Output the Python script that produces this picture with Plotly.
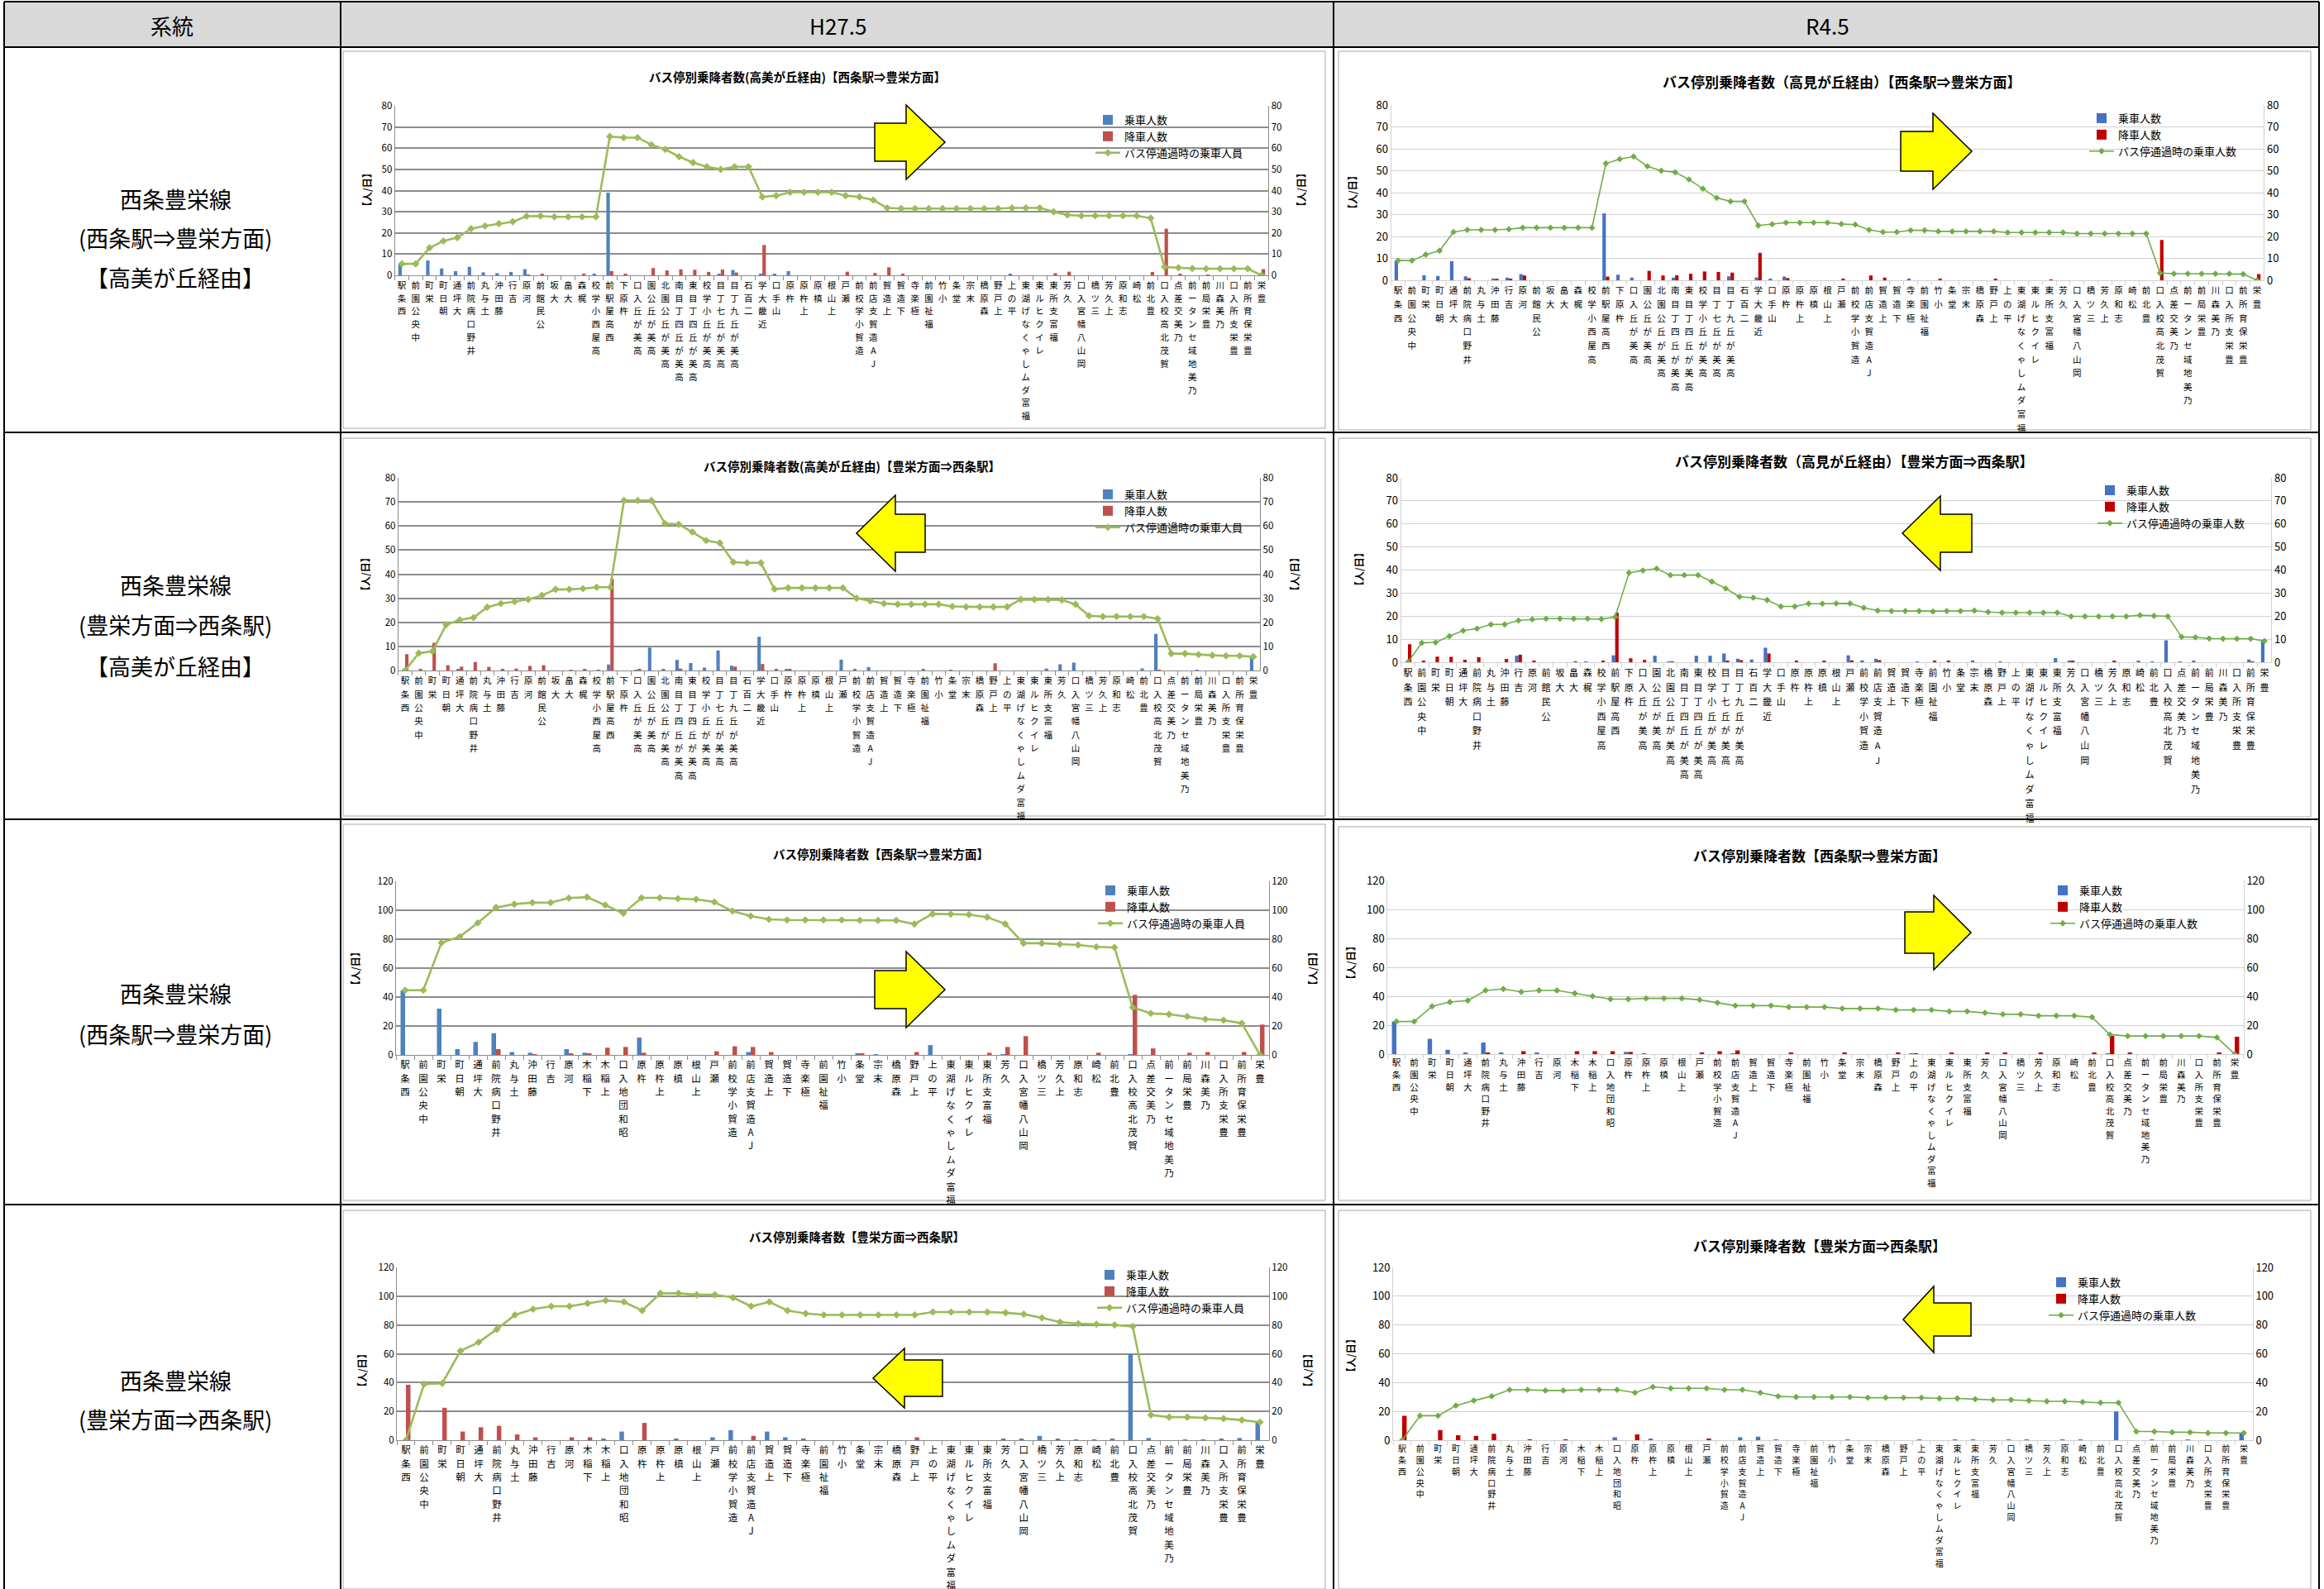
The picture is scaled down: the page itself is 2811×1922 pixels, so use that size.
import plotly.graph_objects as go

W, H = 2811, 1922
FONT = "Noto Sans CJK JP"

# ---- bus stops -------------------------------------------------------------
STOPS_A = ["西条駅", "中央公園前", "栄町", "朝日町", "大坪通", "井野口病院前", "土与丸", "藤田沖", "吉行", "河原",
           "公民館前", "大坂", "大畠", "梶森", "高屋西小学校", "西高屋駅前", "杵原下", "高美が丘入口", "高美が丘公園", "高美が丘公園北",
           "高美が丘四丁目南", "高美が丘四丁目東", "高美が丘小学校", "高美が丘七丁目", "高美が丘九丁目", "二百石", "近畿大学", "山手口", "杵原", "上杵原",
           "槙原", "上山根", "瀬戸", "造賀小学校前", "JA造賀支店前", "上造賀", "下造賀", "極楽寺", "福祉園前", "小竹",
           "堂条", "末宗", "森原橋", "上戸野", "平の上", "福富ダムしゃくなげ湖東", "レイクヒル東", "福富支所東", "久芳", "岡山八幡宮入口",
           "三ツ橋", "上久芳", "志和原", "松崎", "豊北前", "賀茂北高校入口", "乃美交差点", "乃美地域センター前", "豊栄局前", "乃美森川",
           "豊栄支所入口", "豊栄保育所前", "豊栄"]

STOPS_B = ["西条駅", "中央公園前", "栄町", "朝日町", "大坪通", "井野口病院前", "土与丸", "藤田沖", "吉行", "河原",
           "下稲木", "上稲木", "昭和団地入口", "杵原", "上杵原", "槙原", "上山根", "瀬戸", "造賀小学校前", "JA造賀支店前",
           "上造賀", "下造賀", "極楽寺", "福祉園前", "小竹", "堂条", "末宗", "森原橋", "上戸野", "平の上",
           "福富ダムしゃくなげ湖東", "レイクヒル東", "福富支所東", "久芳", "岡山八幡宮入口", "三ツ橋", "上久芳", "志和原", "松崎", "豊北前",
           "賀茂北高校入口", "乃美交差点", "乃美地域センター前", "豊栄局前", "乃美森川", "豊栄支所入口", "豊栄保育所前", "豊栄"]

# ---- 高美が丘経由 西条駅⇒豊栄方面 -------------------------------------------
A_H27_OUT_BOARD = [5.4, 0, 7.0, 3.2, 2.0, 4.0, 1.4, 1.0, 1.6, 2.9,
                   0, 0, 0, 0, 0.8, 39, 0, 0, 0, 0,
                   0, 0, 0, 0.6, 2.5, 0, 0.4, 0.5, 2.0, 0,
                   0, 0, 0, 0, 0, 0, 0, 0, 0, 0,
                   0, 0, 0, 0, 0.4, 0, 0, 0, 0, 0,
                   0, 0, 0, 0, 0, 0, 0, 0, 0, 0,
                   0, 0, 0]
A_H27_OUT_ALIGHT = [0, 0, 0, 0, 0, 0, 0, 0, 0, 0.3,
                    0.4, 0, 0, 0.7, 0, 2.0, 0.4, 0, 3.4, 2.3,
                    2.8, 2.6, 1.6, 2.7, 1.3, 0, 14.3, 0, 0, 0,
                    0, 0, 1.7, 0, 1.1, 3.8, 0.6, 0, 0, 0,
                    0, 0, 0, 0, 0, 0, 0, 1.0, 1.7, 0,
                    0, 0, 0, 0, 1.6, 22.0, 0.5, 0, 0.3, 0,
                    0, 0, 2.9]
A_H27_OUT_ONBOARD = [5.4, 5.4, 13, 16.2, 17.8, 22, 23.3, 24.4, 25.3, 27.9,
                     28, 27.6, 27.6, 27.6, 27.6, 65.5, 65, 65, 61.6, 59.4,
                     56, 53.2, 51.2, 50, 51.2, 51.2, 37, 37.6, 39.2, 39.2,
                     39.2, 39.2, 37.6, 37, 35.5, 31.8, 31.5, 31.5, 31.5, 31.5,
                     31.5, 31.5, 31.5, 31.5, 31.8, 31.8, 31.8, 30, 28.5, 28.1,
                     28.1, 28.1, 28.1, 28.1, 27, 3.9, 3.6, 3.2, 3.1, 3.1,
                     3.1, 3.1, 0]

A_R4_OUT_BOARD = [9, 0, 2.3, 2.0, 8.7, 1.8, 0, 0.8, 1.2, 2.8,
                  0, 0, 0, 0, 0, 30.5, 2.5, 1.2, 0, 0,
                  1.2, 0, 0, 0, 1.8, 0, 1.3, 0.5, 1.7, 0,
                  0, 0, 0, 0, 0, 0, 0, 0.8, 0, 0,
                  0, 0, 0, 0, 0, 0, 0, 0, 0, 0,
                  0, 0, 0, 0, 0, 0, 0, 0, 0, 0,
                  0, 0, 0]
A_R4_OUT_ALIGHT = [0, 0, 0, 0, 0, 0.9, 0, 0.6, 0.6, 2.2,
                   0, 0, 0, 0, 0, 1.7, 0, 0, 4.3, 2.2,
                   2.3, 3.0, 4.0, 3.8, 3.5, 0, 12.5, 0, 1.0, 0,
                   0, 0, 0.5, 0, 2.2, 1.2, 0, 0, 0, 0.4,
                   0, 0, 0, 0.5, 0, 0, 0, 0.3, 0, 0,
                   0, 0, 0, 0, 0, 18.4, 0, 0, 0, 0,
                   0, 0, 2.8]
A_R4_OUT_ONBOARD = [9, 9, 11.7, 13.5, 22, 23, 23, 23, 23.3, 24,
                    24, 24, 24, 24, 24, 53.3, 55.3, 56.5, 52, 50,
                    49.3, 46, 41.8, 37.6, 36, 36, 25, 25.6, 26.3, 26.3,
                    26.3, 26.3, 25.7, 25.4, 23, 22, 22, 22.8, 22.8, 22.3,
                    22.3, 22.3, 22.3, 22.3, 21.8, 21.8, 21.8, 21.8, 21.8, 21.3,
                    21.3, 21.3, 21.3, 21.3, 21.3, 3.3, 3, 3, 3, 3,
                    3, 2.8, 0]

# ---- 高美が丘経由 豊栄方面⇒西条駅 -------------------------------------------
A_H27_IN_BOARD = [0, 0, 0, 0, 0.5, 0, 0, 0, 0, 0,
                  0, 0, 0, 0, 0, 2.5, 0, 0.3, 9.5, 0.4,
                  4.4, 3.1, 1.2, 8.3, 2.0, 0, 14.0, 0, 0.5, 0,
                  0, 0, 4.5, 0.7, 1.4, 0, 0, 0, 0.5, 0,
                  0.3, 0, 0, 0, 0, 0, 0, 0.8, 2.6, 3.3,
                  0, 0, 0, 0, 0.9, 15.2, 0, 0, 0.3, 0,
                  0, 0, 5.5]
A_H27_IN_ALIGHT = [6.8, 0.6, 11.5, 2.2, 1.6, 3.5, 1.5, 0.6, 0.8, 1.9,
                   2.2, 0, 0.3, 0.4, 0.3, 38, 0, 0.6, 0, 0,
                   0.8, 0, 0, 0, 1.6, 0, 2.7, 0.6, 0.6, 0,
                   0, 0, 0, 0, 0, 0, 0, 0, 0, 0,
                   0, 0, 0, 3.0, 0, 0, 0, 0, 0, 0,
                   0, 0, 0, 0, 0, 0.3, 0, 0, 0, 0,
                   0, 0, 0]
A_H27_IN_ONBOARD = [0, 7.2, 8, 19, 21, 22, 26.3, 27.8, 28.6, 29.5,
                    31.2, 33.7, 33.7, 34, 34.6, 34.6, 70.6, 70.6, 70.6, 61,
                    60.7, 57.5, 54, 53, 45, 44.7, 44.7, 33.8, 34.3, 34.3,
                    34.3, 34.3, 34.3, 30, 28.9, 27.8, 27.5, 27.5, 27.5, 27.5,
                    26.6, 26.4, 26.4, 26.4, 26.4, 29.5, 29.5, 29.5, 29.3, 27.5,
                    22.7, 22.4, 22.4, 22.4, 22.4, 21.5, 7, 7, 6.6, 6.3,
                    6.1, 6.1, 5.7]

A_R4_IN_BOARD = [0, 0, 0, 0, 0, 0, 0, 0, 2.8, 0,
                 0, 0, 0, 0.3, 0, 3.0, 0, 0, 2.8, 0.3,
                 0, 2.8, 2.8, 3.8, 1.5, 1.2, 6.3, 0, 0, 0,
                 0, 0, 3.0, 0.8, 1.5, 0, 0, 0.3, 0, 0,
                 0, 0.8, 0, 0.3, 0, 0, 0, 1.8, 0.4, 0,
                 0, 0, 0, 0.4, 0.3, 9.5, 0.3, 0.5, 0, 0,
                 0, 1.2, 9.2]
A_R4_IN_ALIGHT = [7.8, 0.6, 2.4, 2.3, 1.1, 2.2, 0, 1.4, 3.3, 0.6,
                  0, 0, 0.3, 0, 0.5, 21.5, 1.7, 1.0, 0, 0.3,
                  0, 0, 0, 0.4, 0.9, 0, 3.8, 0, 0.7, 0,
                  0.5, 0, 0.8, 0, 0.9, 0, 0, 0, 0.4, 0.4,
                  0, 0, 0, 0, 0, 0, 0, 0, 0.4, 0,
                  0, 0.6, 0, 0, 0, 0, 0, 0, 0, 0,
                  0, 0.3, 0]
A_R4_IN_ONBOARD = [0, 8.4, 8.6, 11.3, 13.7, 14.6, 16.4, 16.4, 18.1, 18.6,
                   18.9, 18.9, 18.9, 18.9, 18.7, 19.6, 38.8, 39.8, 40.6, 37.8,
                   37.8, 37.8, 35, 32, 28.4, 28, 27, 24.2, 24.2, 25.4,
                   25.4, 25.5, 25.5, 23.6, 22.4, 22.2, 22.2, 22.2, 22, 22.2,
                   22.2, 22.4, 21.8, 21.5, 21.5, 21.5, 21.5, 21.5, 19.9, 19.9,
                   19.9, 19.9, 19.9, 20.4, 20.1, 19.9, 11, 10.8, 10.3, 10.2,
                   10.2, 10.2, 9.2]

# ---- 西条駅⇒豊栄方面 ---------------------------------------------------------
B_H27_OUT_BOARD = [44.5, 0, 32, 4, 9, 15, 2, 1.5, 0, 4,
                   1.5, 0, 0, 12, 0, 0, 0, 0, 0, 2,
                   0, 0, 0, 0, 0, 1, 0.5, 0, 0, 6.8,
                   0, 0, 0, 0.5, 0, 0, 0, 0, 0, 0,
                   0.5, 0, 0, 0, 0, 0, 0, 0]
B_H27_OUT_ALIGHT = [0, 0, 0, 0, 0, 4, 0, 0.5, 0, 1,
                    1, 5, 5.5, 1.5, 0, 0, 0, 2.5, 6, 5.5,
                    2, 0, 0, 0, 0, 1, 0, 0, 2, 0,
                    0, 0, 1.5, 5.5, 13, 0, 0, 0, 1.5, 0,
                    41.5, 4.5, 0, 1.5, 2, 0, 2, 21]
B_H27_OUT_ONBOARD = [44.7, 44.7, 77.6, 81.7, 91.3, 101.9, 104.2, 105.3, 105.3, 108.4,
                     109.1, 103.6, 97.9, 108.6, 108.6, 108, 107.6, 105.7, 99.4, 96,
                     93.7, 93.3, 93.3, 93.3, 93.3, 93, 93, 93, 90.5, 97.5,
                     97.3, 97, 95.2, 90.5, 77.2, 77.2, 76.6, 76, 74.7, 74.3,
                     32.9, 28.7, 28.1, 26.6, 24.7, 24, 21.9, 0]

B_R4_OUT_BOARD = [22.5, 0, 10.5, 3, 1, 8, 1, 0, 1, 0,
                  0, 0, 0, 1.5, 0.5, 0, 0, 0, 0, 0.5,
                  0, 0, 0, 0, 0, 0, 0, 0, 0, 0.5,
                  0, 0, 0, 0, 0, 0, 0, 0, 0, 0,
                  0.5, 0, 0, 0, 0, 0, 0, 0]
B_R4_OUT_ALIGHT = [0, 0, 0, 0, 0, 1, 0, 2, 0, 0,
                   2, 2, 2, 1.5, 0, 0, 0, 1, 2, 2.5,
                   0, 0, 1, 0, 0, 1, 0, 0, 1, 0.5,
                   0, 1, 0, 1, 1, 0, 1, 0, 0, 1,
                   12.5, 1, 0, 0, 0, 0, 1, 12]
B_R4_OUT_ONBOARD = [22.5, 22.5, 33, 36, 37, 44, 45, 43, 44, 44,
                    42, 40, 38, 38, 38.5, 38.5, 38.5, 37.5, 35.5, 33.5,
                    33.5, 33.5, 32.5, 32.5, 32.5, 31.5, 31.5, 31.5, 30.5, 30.5,
                    30.5, 29.5, 29.5, 28.5, 27.5, 27.5, 26.5, 26.5, 26.5, 25.5,
                    13.5, 12.5, 12.5, 12.5, 12.5, 12.5, 11.5, 0]

# ---- 豊栄方面⇒西条駅 ---------------------------------------------------------
B_H27_IN_BOARD = [0, 0, 0, 0, 0, 0, 0, 0, 0, 0,
                  0, 1, 6, 0, 0, 1, 0, 2, 7, 0,
                  6, 2, 1, 0, 0, 0, 0, 0, 0, 0,
                  0, 0, 0, 1, 1, 3, 1, 0.5, 0.5, 1,
                  60, 1.5, 0, 0.5, 0.5, 1, 1.5, 12.5]
B_H27_IN_ALIGHT = [38.5, 0, 22.5, 6, 9, 10, 4, 2, 0, 2,
                   2, 0, 0, 12, 0, 0, 0, 0, 0, 3,
                   0, 0, 0, 0, 0, 0, 0, 0, 2, 0,
                   0, 0, 0, 0, 0, 0, 0, 0, 0, 0,
                   0, 0, 0, 0, 0, 0, 0, 0]
B_H27_IN_ONBOARD = [0, 39, 39.5, 62, 68, 77, 87, 91, 93, 93,
                    95, 97, 96, 90, 102, 102, 101, 101, 99, 93,
                    96, 90, 88, 87, 87, 87, 87, 87, 87, 89,
                    89, 89, 89, 88.5, 87.5, 85, 82, 81, 80.5, 80,
                    79, 17.5, 16, 16, 15.5, 15, 14, 12.5]

B_R4_IN_BOARD = [0, 0, 0, 0, 0, 0, 0, 0, 0, 0,
                 0, 0, 2, 0, 1, 0, 0, 0, 0, 2,
                 2.5, 0.5, 0, 0, 0, 0.5, 0, 0, 0, 0.5,
                 0, 0.5, 0.5, 0, 0.5, 0.5, 0, 0.5, 0.5, 0,
                 20, 0, 0.5, 0, 0.5, 0, 0, 5]
B_R4_IN_ALIGHT = [17, 0, 7, 3.5, 3, 4.5, 0, 0.5, 0, 0.5,
                  0, 0, 0, 4, 0, 0, 0, 1, 0, 0,
                  0, 0, 0, 0, 0, 0, 0, 0, 0, 0,
                  0, 0, 0, 0, 0, 0, 0, 0, 0, 0,
                  0, 0, 0, 0, 0, 0, 0, 0]
B_R4_IN_ONBOARD = [0, 17, 17, 24, 27.5, 30.5, 35, 35, 34.5, 34.5,
                   35, 35, 35, 33, 37, 36, 36, 36, 35, 35,
                   33, 30.5, 30, 30, 30, 30, 29.5, 29.5, 29.5, 29.5,
                   29, 29, 28.5, 28, 28, 27.5, 27, 27, 26.5, 26,
                   26, 6, 6, 5.5, 5.5, 5, 5, 5]

TITLES = [
    "バス停別乗降者数(高美が丘経由)【西条駅⇒豊栄方面】",
    "バス停別乗降者数（高見が丘経由）【西条駅⇒豊栄方面】",
    "バス停別乗降者数(高美が丘経由)【豊栄方面⇒西条駅】",
    "バス停別乗降者数（高見が丘経由）【豊栄方面⇒西条駅】",
    "バス停別乗降者数【西条駅⇒豊栄方面】",
    "バス停別乗降者数【西条駅⇒豊栄方面】",
    "バス停別乗降者数【豊栄方面⇒西条駅】",
    "バス停別乗降者数【豊栄方面⇒西条駅】",
]
LINE_NAMES = {"H27": "バス停通過時の乗車人員", "R4": "バス停通過時の乗車人数"}

PALETTES = {
    "H27": dict(blue="#4F81BD", red="#C0504D", green="#9BBB59", grid="#8c8c8c", gw=1.6, lw=2.6, ms=7,
                title_fs=14.5, tick_fs=11.5),
    "R4": dict(blue="#4472C4", red="#C00000", green="#70AD47", grid="#d0d0d0", gw=1.2, lw=1.6, ms=6,
               title_fs=17, tick_fs=13),
}

# placement of each chart on the page (pixels); tfs = label line pitch, glyph = label glyph size
CHARTS = [
    dict(stops=STOPS_A, board=A_H27_OUT_BOARD, alight=A_H27_OUT_ALIGHT, onboard=A_H27_OUT_ONBOARD, era="H27",
         first=486, last=1526, y0=333, ytop=128, ymax=80, dtick=10, box=(415, 62, 1603, 518), tfs=12.2, glyph=10.5,
         title=(964, 93), legend=(1320, 130, 4), ytl=(443, 230), ytr=(1573, 230),
         arrow=("r", 1058, 1096, 1143, 172, 23, 45)),
    dict(stops=STOPS_A, board=A_R4_OUT_BOARD, alight=A_R4_OUT_ALIGHT, onboard=A_R4_OUT_ONBOARD, era="R4",
         first=1691, last=2730, y0=339, ytop=127, ymax=80, dtick=10, box=(1619, 62, 2795, 520), tfs=12.8, glyph=10.5,
         title=(2228, 98), legend=(2522, 128, 3.6), ytl=(1635, 233), ytr=None,
         arrow=("r", 2299, 2338, 2385, 183, 24, 46)),
    dict(stops=STOPS_A, board=A_H27_IN_BOARD, alight=A_H27_IN_ALIGHT, onboard=A_H27_IN_ONBOARD, era="H27",
         first=490, last=1516, y0=811, ytop=578, ymax=80, dtick=10, box=(415, 530, 1603, 987), tfs=12.6, glyph=10.5,
         title=(1030, 563), legend=(1320, 583, 7), ytl=(441, 695), ytr=(1565, 695),
         arrow=("l", 1119, 1083, 1036, 645, 23, 46)),
    dict(stops=STOPS_A, board=A_R4_IN_BOARD, alight=A_R4_IN_ALIGHT, onboard=A_R4_IN_ONBOARD, era="R4",
         first=1703, last=2739, y0=801, ytop=578, ymax=80, dtick=10, box=(1619, 530, 2795, 988), tfs=13.5, glyph=11,
         title=(2243, 558), legend=(2532, 578, 8), ytl=(1643, 689), ytr=None,
         arrow=("l", 2385, 2347, 2301, 645, 23, 45)),
    dict(stops=STOPS_B, board=B_H27_OUT_BOARD, alight=B_H27_OUT_ALIGHT, onboard=B_H27_OUT_ONBOARD, era="H27",
         first=490, last=1524, y0=1276, ytop=1066, ymax=120, dtick=20, box=(415, 997, 1603, 1452), tfs=12.6, glyph=11.5,
         title=(1065, 1032), legend=(1323, 1062, 1.6), ytl=(429, 1172), ytr=(1587, 1172),
         arrow=("r", 1058, 1096, 1143, 1197, 23, 46)),
    dict(stops=STOPS_B, board=B_R4_OUT_BOARD, alight=B_R4_OUT_ALIGHT, onboard=B_R4_OUT_ONBOARD, era="R4",
         first=1689, last=2703, y0=1275, ytop=1065, ymax=120, dtick=20, box=(1619, 1000, 2795, 1452), tfs=11.2, glyph=10.5,
         title=(2201, 1034), legend=(2475, 1062, 3), ytl=(1633, 1165), ytr=None,
         arrow=("r", 2304, 2339, 2384, 1128, 25, 45)),
    dict(stops=STOPS_B, board=B_H27_IN_BOARD, alight=B_H27_IN_ALIGHT, onboard=B_H27_IN_ONBOARD, era="H27",
         first=491, last=1524, y0=1742, ytop=1533, ymax=120, dtick=20, box=(415, 1464, 1603, 1922), tfs=12.6, glyph=11.5,
         title=(1036, 1495), legend=(1322, 1527, 0), ytl=(437, 1658), ytr=(1581, 1658),
         arrow=("l", 1140, 1094, 1056, 1667, 22, 36)),
    dict(stops=STOPS_B, board=B_R4_IN_BOARD, alight=B_R4_IN_ALIGHT, onboard=B_R4_IN_ONBOARD, era="R4",
         first=1696, last=2714, y0=1742, ytop=1533, ymax=120, dtick=20, box=(1619, 1464, 2795, 1922), tfs=10.7, glyph=10,
         title=(2201, 1506), legend=(2473, 1536, 15), ytl=(1633, 1640), ytr=None,
         arrow=("l", 2384, 2339, 2302, 1596, 20, 40)),
]

ROW_LABELS = [
    (["西条豊栄線", "(西条駅⇒豊栄方面)", "【高美が丘経由】"], [240, 287, 335]),
    (["西条豊栄線", "(豊栄方面⇒西条駅)", "【高美が丘経由】"], [708, 756, 805]),
    (["西条豊栄線", "(西条駅⇒豊栄方面)"], [1201, 1250]),
    (["西条豊栄線", "(豊栄方面⇒西条駅)"], [1669, 1716]),
]


def fx(px):
    return px / W


def fy(py):
    return 1 - py / H


def stacked(name, glyph):
    # upright characters stacked vertically, read from the bottom up
    chars = [f'<span style="font-size:{glyph}px">{ch}</span>' for ch in reversed(list(name))]
    return "<br>".join(chars)


fig = go.Figure()
layout = dict(
    width=W, height=H, margin=dict(l=0, r=0, t=0, b=0),
    paper_bgcolor="white", plot_bgcolor="rgba(0,0,0,0)",
    template="none", font=dict(family=FONT, color="black"),
    barmode="group", bargap=0.5, bargroupgap=0.0, showlegend=True,
)
shapes = []
annotations = []

# table frame
shapes.append(dict(type="rect", xref="paper", yref="paper", x0=fx(5), x1=fx(2805), y0=fy(2), y1=fy(57),
                   fillcolor="#d9d9d9", line=dict(width=0), layer="below"))
for yy in [2, 57, 523, 991, 1457]:
    shapes.append(dict(type="line", xref="paper", yref="paper", x0=fx(5), x1=fx(2805), y0=fy(yy), y1=fy(yy),
                       line=dict(color="black", width=2)))
for xx in [5, 412, 1613, 2805]:
    shapes.append(dict(type="line", xref="paper", yref="paper", x0=fx(xx), x1=fx(xx), y0=fy(2), y1=fy(1922),
                       line=dict(color="black", width=2)))
for txt, cx in [("系統", 208), ("H27.5", 1013), ("R4.5", 2210)]:
    annotations.append(dict(text=txt, x=fx(cx), y=fy(30), xref="paper", yref="paper", showarrow=False,
                            font=dict(size=26, family=FONT), xanchor="center", yanchor="middle"))
for lines, ys in ROW_LABELS:
    for txt, yy in zip(lines, ys):
        annotations.append(dict(text=txt, x=fx(212), y=fy(yy), xref="paper", yref="paper", showarrow=False,
                                font=dict(size=27, family=FONT), xanchor="center", yanchor="middle"))

for k, c in enumerate(CHARTS, start=1):
    pal = PALETTES[c["era"]]
    xa = "x" if k == 1 else f"x{k}"
    yl_id, yr_id = 2 * k - 1, 2 * k
    yl = "y" if yl_id == 1 else f"y{yl_id}"
    yr = f"y{yr_id}"
    leg = "legend" if k == 1 else f"legend{k}"
    n = len(c["stops"])
    step = (c["last"] - c["first"]) / (n - 1)

    fig.add_trace(go.Bar(x=c["stops"], y=c["board"], name="乗車人数", marker=dict(color=pal["blue"], line=dict(width=0)),
                         xaxis=xa, yaxis=yl, legend=leg, legendgroup=f"b{k}", offsetgroup="b"))
    fig.add_trace(go.Bar(x=c["stops"], y=c["alight"], name="降車人数", marker=dict(color=pal["red"], line=dict(width=0)),
                         xaxis=xa, yaxis=yl, legend=leg, legendgroup=f"a{k}", offsetgroup="a"))
    fig.add_trace(go.Scatter(x=c["stops"], y=c["onboard"], name=LINE_NAMES[c["era"]], mode="lines+markers",
                             line=dict(color=pal["green"], width=pal["lw"]),
                             marker=dict(symbol="diamond", size=pal["ms"], color=pal["green"]),
                             xaxis=xa, yaxis=yr, legend=leg, legendgroup=f"o{k}"))

    xkey = "xaxis" if k == 1 else f"xaxis{k}"
    ylkey = "yaxis" if yl_id == 1 else f"yaxis{yl_id}"
    yrkey = f"yaxis{yr_id}"
    layout[xkey] = dict(
        domain=[fx(c["first"] - step / 2), fx(c["last"] + step / 2)], anchor=yl,
        type="category", range=[-0.5, n - 0.5],
        tickmode="array", tickvals=c["stops"], ticktext=[stacked(s, c["glyph"]) for s in c["stops"]],
        tickangle=0, ticks="outside", tickson="boundaries", ticklen=5, tickcolor=pal["grid"],
        tickfont=dict(size=c["tfs"], family=FONT, color="black"),
        showline=True, linecolor=pal["grid"], linewidth=1, showgrid=False, zeroline=False, automargin=False,
    )
    axis_common = dict(range=[0, c["ymax"]], tick0=0, dtick=c["dtick"],
                       tickfont=dict(size=pal["tick_fs"], family=FONT, color="black"),
                       showline=True, linecolor=pal["grid"], linewidth=1, zeroline=False, automargin=False, ticks="")
    layout[ylkey] = dict(domain=[fy(c["y0"]), fy(c["ytop"])], anchor=xa, showgrid=True,
                         gridcolor=pal["grid"], gridwidth=pal["gw"], **axis_common)
    layout[yrkey] = dict(overlaying=yl, side="right", anchor=xa, showgrid=False, **axis_common)

    lx, ly, gap = c["legend"]
    layout[leg] = dict(x=fx(lx), y=fy(ly), xanchor="left", yanchor="top", bgcolor="rgba(0,0,0,0)",
                       font=dict(size=13, family=FONT), tracegroupgap=gap, traceorder="normal",
                       itemclick=False, itemdoubleclick=False)

    # chart frame
    bx0, by0, bx1, by1 = c["box"]
    shapes.append(dict(type="rect", xref="paper", yref="paper", x0=fx(bx0), x1=fx(bx1), y0=fy(by0), y1=fy(by1),
                       line=dict(color="#a6a6a6", width=1), layer="below"))
    # title
    tx, ty = c["title"]
    annotations.append(dict(text=f"<b>{TITLES[k - 1]}</b>", x=fx(tx), y=fy(ty), xref="paper", yref="paper",
                            showarrow=False, font=dict(size=pal["title_fs"], family=FONT),
                            xanchor="center", yanchor="middle"))
    # unit labels
    for pos in [c["ytl"], c["ytr"]]:
        if pos:
            annotations.append(dict(text="<b>【人/日】</b>", x=fx(pos[0]), y=fy(pos[1]), xref="paper", yref="paper",
                                    showarrow=False, textangle=-90, font=dict(size=12, family=FONT),
                                    xanchor="center", yanchor="middle"))
    # direction arrow
    _, tail, base, tip, cy, bh, hh = c["arrow"]
    pts = [(tail, cy - bh), (base, cy - bh), (base, cy - hh), (tip, cy), (base, cy + hh), (base, cy + bh), (tail, cy + bh)]
    path = "M " + " L ".join(f"{fx(px):.5f},{fy(py):.5f}" for px, py in pts) + " Z"
    shapes.append(dict(type="path", xref="paper", yref="paper", path=path, fillcolor="#FFFF00",
                       line=dict(color="black", width=1.5)))

layout["shapes"] = shapes
layout["annotations"] = annotations
fig.update_layout(**layout)
fig.write_html("out.html")
